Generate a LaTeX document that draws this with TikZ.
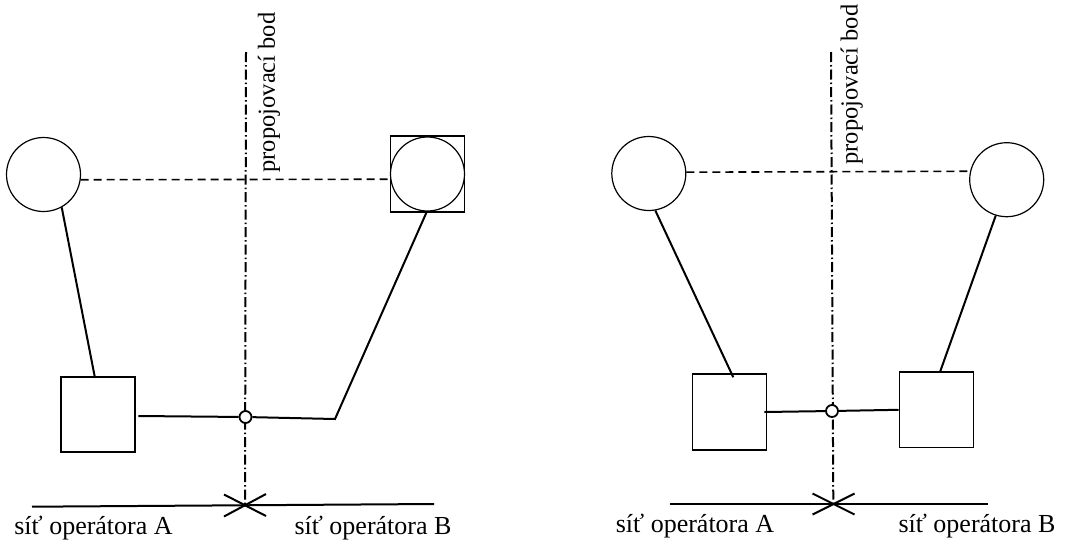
\documentclass[tikz,border=0pt]{standalone}
\usepackage{fontspec}
\setmainfont{Liberation Serif}
\begin{document}
\begin{tikzpicture}[x=1pt,y=-1pt,
  shapeline/.style={draw=black,line width=1.2pt},
  ring/.style={shapeline,circle,minimum size=74pt,inner sep=0pt},
  boxnode/.style={shapeline,rectangle,minimum width=74pt,minimum height=75pt,inner sep=0pt},
  junc/.style={draw=black,line width=1.8pt,circle,fill=white,minimum size=12pt,inner sep=0pt},
  conn/.style={draw=black,line width=2pt},
  signal/.style={draw=black,line width=1.6pt,dash pattern=on 8pt off 5pt},
  axisline/.style={draw=black,line width=2pt,dash pattern=on 10pt off 3pt on 1.5pt off 3pt},
  lbl/.style={font=\fontsize{26}{30}\selectfont,inner sep=0pt,anchor=base},
  vlbl/.style={font=\fontsize{24.5}{28}\selectfont,inner sep=0pt,rotate=90}
]
\useasboundingbox (0,0) rectangle (1075,549);
\fill[white] (0,0) rectangle (1075,549);

% ---------- left diagram ----------
\coordinate (vtopA) at (246,52);
\coordinate (xA) at (245,505.3);
\draw[axisline] (vtopA) -- (xA);
\node[vlbl] (pbA) at (269,92.5) {propojovací bod};

\node[ring] (cA1) at (43.5,174.5) {};
\node[boxnode,minimum width=73.5pt,minimum height=76pt] (sqB1) at (427.5,174) {};
\node[ring] (cB1) at (427.5,174) {};
\node[boxnode] (sqA1) at (98,414.5) {};
\node[junc] (jA) at (245.5,417) {};
\coordinate (bendA) at (335,419);
\coordinate (sqA1top) at (95,378);
\coordinate (sqA1out) at (138.3,416);

\draw[signal] (cA1.-8.5) -- (cB1.188.5);
\draw[conn] (cA1.-61) -- (sqA1top);
\draw[conn] (sqA1out) -- (jA);
\draw[conn] (jA) -- (bendA) -- (cB1.-91);

\coordinate (baseAl) at (32,506.7);
\coordinate (baseAr) at (434,504);
\draw[conn] (baseAl) -- (baseAr);
\coordinate (xA1) at (224,516.5);
\coordinate (xA2) at (266,494);
\coordinate (xA3) at (224,494.5);
\coordinate (xA4) at (266,516);
\draw[conn] (xA1) -- (xA2);
\draw[conn] (xA3) -- (xA4);

\node[lbl] (opA1) at (93.5,534) {síť operátora A};
\node[lbl] (opB1) at (373,534) {síť operátora B};

% ---------- right diagram ----------
\coordinate (vtopB) at (831,52);
\coordinate (xB) at (833.3,504);
\draw[axisline] (vtopB) -- (xB);
\node[vlbl] (pbB) at (851.7,84.5) {propojovací bod};

\node[ring] (cA2) at (648.8,173.5) {};
\node[ring] (cB2) at (1006.7,179.7) {};
\node[boxnode,minimum height=76pt] (sqA2) at (729.3,412) {};
\node[boxnode,minimum height=75.7pt] (sqB2) at (936.3,409.8) {};
\node[junc] (jB) at (832,411) {};
\coordinate (sqA2top) at (733.3,377.3);
\coordinate (sqB2top) at (940,372);
\coordinate (sqA2out) at (764.3,412);

\draw[signal] (cA2.2.8) -- (cB2.167.5);
\draw[conn] (cA2.-80.4) -- (sqA2top);
\draw[conn] (cB2.-107.5) -- (sqB2top);
\draw[conn] (sqA2out) -- (jB);
\draw[conn] (jB) -- (sqB2.west);

\coordinate (baseBl) at (670,504);
\coordinate (baseBr) at (987.7,504);
\draw[conn] (baseBl) -- (baseBr);
\coordinate (xB1) at (812.5,514.5);
\coordinate (xB2) at (854.5,493.5);
\coordinate (xB3) at (812.5,493.5);
\coordinate (xB4) at (854.5,514.5);
\draw[conn] (xB1) -- (xB2);
\draw[conn] (xB3) -- (xB4);

\node[lbl] (opA2) at (695,532) {síť operátora A};
\node[lbl] (opB2) at (977,532) {síť operátora B};
\end{tikzpicture}
\end{document}
